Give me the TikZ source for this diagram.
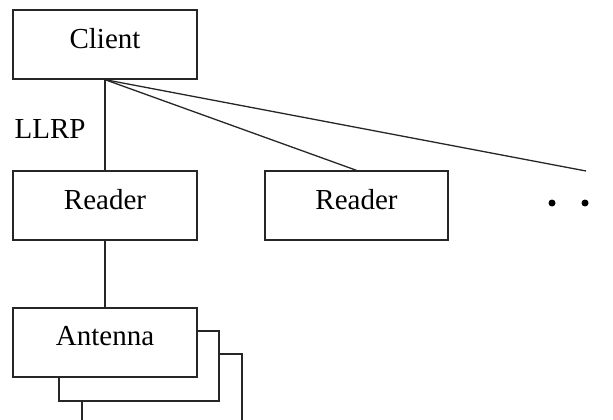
\documentclass[tikz,border=0pt]{standalone}
\usepackage{fontspec}
\setmainfont{Liberation Serif}
\begin{document}
\begin{tikzpicture}[x=1pt,y=-1pt,
  line width=1.3pt,
  box/.style={draw=black!85, fill=white, rectangle, minimum width=184pt, minimum height=69pt, inner sep=0pt},
  lbl/.style={font=\fontsize{29}{32}\selectfont, inner sep=0pt},
  link/.style={draw=black!85},
  dotmark/.style={circle, fill=black, inner sep=0pt, minimum size=7pt}]
  \useasboundingbox (0,0) rectangle (613,420);
  \clip (0,0) rectangle (613,420);

  % stacked antenna boxes (back to front)
  \node[box, minimum width=160pt, minimum height=70pt] (ant3) at (162,389) {};
  \node[box, minimum width=160pt, minimum height=70pt] (ant2) at (139,366) {};
  \node[box] (ant) at (105,342.5) {};
  \node[lbl] at ([yshift=6pt]ant.center) {Antenna};

  % client and readers
  \node[box] (client) at (105,44.5) {};
  \node[lbl] at ([yshift=6pt]client.center) {Client};
  \node[box] (reader1) at (105,205.5) {};
  \node[lbl] at ([yshift=6pt]reader1.center) {Reader};
  \node[box, minimum width=183pt] (reader2) at (356.5,205.5) {};
  \node[lbl] at ([yshift=6pt]reader2.center) {Reader};

  % further readers
  \coordinate (more) at (586,171);
  \node[dotmark] (dot1) at (552,203) {};
  \node[dotmark] (dot2) at (585,203) {};
  \node[dotmark] (dot3) at (618,203) {};

  % protocol label
  \node[lbl, anchor=base west] (llrp) at (14,138) {LLRP};

  % connections
  \draw[link] (client.south) -- (reader1.north);
  \draw[link] (client.south) -- (reader2.north);
  \draw[link] (client.south) -- (more);
  \draw[link] (reader1.south) -- (ant.north);
\end{tikzpicture}
\end{document}
